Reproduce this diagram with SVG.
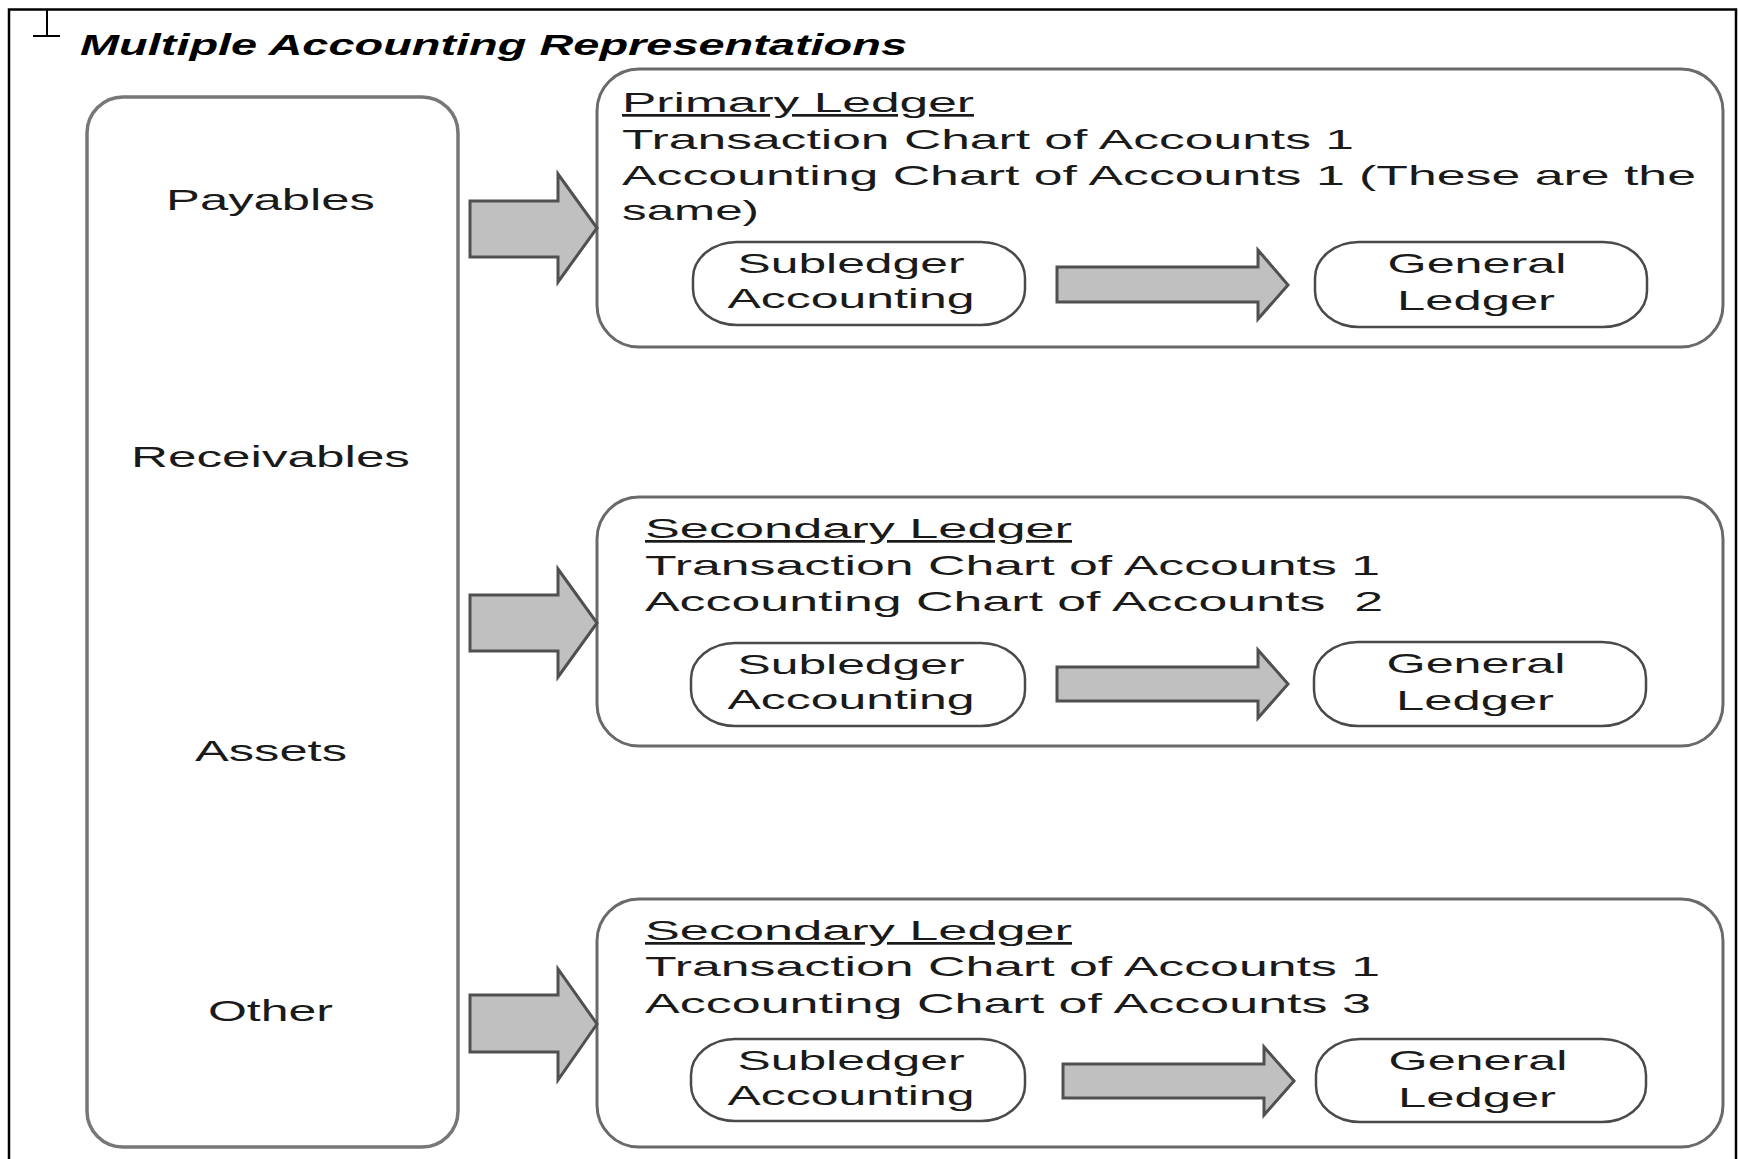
<svg xmlns="http://www.w3.org/2000/svg" width="1738" height="1159" viewBox="0 0 1738 1159">
<style>
text{font-family:"Liberation Sans",Arial,sans-serif;fill:#1a1a1a}
.t{font-size:30px;font-weight:bold;font-style:italic;fill:#000}
.lbl{font-size:29px}
.body{font-size:28px}
.hd{font-size:27px;text-decoration:underline}
.node{font-size:28px;text-anchor:middle}
.big{fill:#fff;stroke:#6a6a6a;stroke-width:3}
.left{fill:#fff;stroke:#777;stroke-width:3.5}
.pill{fill:#fff;stroke:#4a4a4a;stroke-width:2.5}
.arr{fill:#c0c0c0;stroke:#505050;stroke-width:3;stroke-linejoin:miter}
</style>
<rect width="1738" height="1159" fill="#fff"/>
<path d="M9 1159 V9.5 H1736 V1159" fill="none" stroke="#000" stroke-width="2.5"/>
<path d="M47 10 V36 M33 36 H60" fill="none" stroke="#000" stroke-width="2"/>
<text class="t" x="80" y="55" textLength="827" lengthAdjust="spacingAndGlyphs">Multiple Accounting Representations</text>

<g id="sources">
<rect class="left" x="87" y="97" width="371" height="1050" rx="36" ry="36"/>
<text class="lbl" x="166" y="210" textLength="209" lengthAdjust="spacingAndGlyphs">Payables</text>
<text class="lbl" x="131" y="467" textLength="279" lengthAdjust="spacingAndGlyphs">Receivables</text>
<text class="lbl" x="195" y="761" textLength="152" lengthAdjust="spacingAndGlyphs">Assets</text>
<text class="lbl" x="208" y="1021" textLength="125" lengthAdjust="spacingAndGlyphs">Other</text>
</g>

<g id="primary-ledger">
<rect class="big" x="597" y="69" width="1126" height="278" rx="42" ry="42"/>
<text class="hd" x="622" y="112" textLength="352" lengthAdjust="spacingAndGlyphs">Primary Ledger</text>
<text class="body" x="622" y="149" textLength="732" lengthAdjust="spacingAndGlyphs">Transaction Chart of Accounts 1</text>
<text class="body" x="622" y="185" textLength="1074" lengthAdjust="spacingAndGlyphs">Accounting Chart of Accounts 1 (These are the</text>
<text class="body" x="622" y="220" textLength="137" lengthAdjust="spacingAndGlyphs">same)</text>
</g>
<g id="sub1">
<rect class="pill" x="693" y="242" width="332" height="83" rx="44" ry="36"/>
<text class="node" x="851" y="273" textLength="227" lengthAdjust="spacingAndGlyphs">Subledger</text>
<text class="node" x="851" y="308" textLength="247" lengthAdjust="spacingAndGlyphs">Accounting</text>
</g>
<g id="gl1">
<rect class="pill" x="1315" y="242" width="332" height="85" rx="44" ry="36"/>
<text class="node" x="1477" y="273" textLength="179" lengthAdjust="spacingAndGlyphs">General</text>
<text class="node" x="1476" y="310" textLength="158" lengthAdjust="spacingAndGlyphs">Ledger</text>
</g>

<g id="secondary-ledger-2">
<rect class="big" x="597" y="497" width="1126" height="249" rx="42" ry="42"/>
<text class="hd" x="645" y="538" textLength="427" lengthAdjust="spacingAndGlyphs">Secondary Ledger</text>
<text class="body" x="645" y="575" textLength="735" lengthAdjust="spacingAndGlyphs">Transaction Chart of Accounts 1</text>
<text class="body" x="645" y="611" textLength="738" lengthAdjust="spacingAndGlyphs" xml:space="preserve">Accounting Chart of Accounts  2</text>
</g>
<g id="sub2">
<rect class="pill" x="691" y="643" width="334" height="83" rx="44" ry="36"/>
<text class="node" x="851" y="674" textLength="227" lengthAdjust="spacingAndGlyphs">Subledger</text>
<text class="node" x="851" y="709" textLength="247" lengthAdjust="spacingAndGlyphs">Accounting</text>
</g>
<g id="gl2">
<rect class="pill" x="1314" y="642" width="332" height="84" rx="44" ry="36"/>
<text class="node" x="1476" y="673" textLength="179" lengthAdjust="spacingAndGlyphs">General</text>
<text class="node" x="1475" y="710" textLength="158" lengthAdjust="spacingAndGlyphs">Ledger</text>
</g>

<g id="secondary-ledger-3">
<rect class="big" x="597" y="899" width="1126" height="248" rx="42" ry="42"/>
<text class="hd" x="645" y="940" textLength="427" lengthAdjust="spacingAndGlyphs">Secondary Ledger</text>
<text class="body" x="645" y="976" textLength="735" lengthAdjust="spacingAndGlyphs">Transaction Chart of Accounts 1</text>
<text class="body" x="645" y="1013" textLength="726" lengthAdjust="spacingAndGlyphs">Accounting Chart of Accounts 3</text>
</g>
<g id="sub3">
<rect class="pill" x="691" y="1039" width="334" height="82" rx="44" ry="36"/>
<text class="node" x="851" y="1070" textLength="227" lengthAdjust="spacingAndGlyphs">Subledger</text>
<text class="node" x="851" y="1105" textLength="247" lengthAdjust="spacingAndGlyphs">Accounting</text>
</g>
<g id="gl3">
<rect class="pill" x="1316" y="1039" width="330" height="83" rx="44" ry="36"/>
<text class="node" x="1478" y="1070" textLength="179" lengthAdjust="spacingAndGlyphs">General</text>
<text class="node" x="1477" y="1107" textLength="158" lengthAdjust="spacingAndGlyphs">Ledger</text>
</g>

<g id="connectors">
<path class="arr" d="M470 201 H558 V174 L597 228 L558 282 V257 H470 Z"/>
<path class="arr" d="M470 595 H558 V569 L597 623 L558 677 V651 H470 Z"/>
<path class="arr" d="M470 995 H558 V969 L597 1024 L558 1080 V1052 H470 Z"/>
<path class="arr" d="M1057 267 H1258 V250 L1288 285 L1258 319 V302 H1057 Z"/>
<path class="arr" d="M1057 667 H1258 V650 L1288 684 L1258 718 V701 H1057 Z"/>
<path class="arr" d="M1063 1064 H1264 V1047 L1294 1081 L1264 1115 V1098 H1063 Z"/>
</g>
</svg>
